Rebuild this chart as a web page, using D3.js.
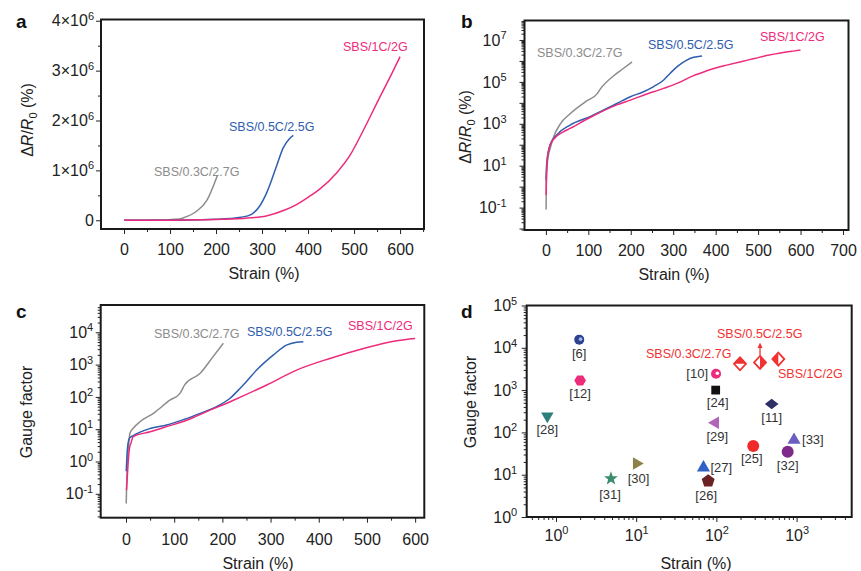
<!DOCTYPE html>
<html>
<head>
<meta charset="utf-8">
<script src="https://cdn.jsdelivr.net/npm/d3@7"></script>
<style>
body { margin: 0; background: #fff; }
text { font-family: "Liberation Sans", Arial, Helvetica, sans-serif; }
</style>
</head>
<body>
<script>
// ---------------- data ----------------
var seriesNames = ["SBS/0.3C/2.7G", "SBS/0.5C/2.5G", "SBS/1C/2G"];

// relative resistance change ΔR/R0 (%) vs strain (%)  (panels a, b)
var strain03 = [0.5, 1, 3, 6, 10, 18, 34, 57, 97, 120, 128, 159, 180, 203];
var resist03 = [0.08, 1, 10, 32, 66, 230, 1e3, 3e3, 1.26e4, 2.6e4, 4.5e4, 1.9e5, 4e5, 9e5];
var strain05 = [0.5, 1, 3, 6, 10, 26, 57, 104, 167, 199, 230, 254, 277, 293, 310, 332, 346, 360, 368];
var resist05 = [2, 6, 20, 50, 100, 300, 870, 2.2e3, 9.3e3, 1.95e4, 3.4e4, 6e4, 1.2e5, 2.6e5, 5.5e5, 1.1e6, 1.45e6, 1.64e6, 1.7e6];
var strain1 = [0.5, 1, 3, 6, 10, 20, 40, 57, 104, 167, 199, 230, 277, 309, 348, 376, 400, 426, 462, 491, 520, 556, 582, 600];
var resist1 = [0.4, 2, 16, 50, 100, 200, 400, 600, 2e3, 8e3, 1.35e4, 2.3e4, 4.9e4, 8.5e4, 2e5, 3.2e5, 4.6e5, 6.3e5, 9.5e5, 1.3e6, 1.8e6, 2.47e6, 2.94e6, 3.28e6];

// gauge factor vs strain (%)  (panel c)
var gfStrain03 = [0.5, 1, 3, 6, 8, 15, 29, 57, 91, 112, 122, 154, 180, 202];
var gf03 = [0.05, 0.12, 1, 4, 7.4, 10.7, 17, 31, 79, 129, 240, 537, 1700, 4570];
var gfStrain05 = [0.5, 3, 7, 15, 50, 84.5, 120, 154, 188, 216, 237, 250, 271, 306, 334, 354, 368];
var gf05 = [0.5, 2.5, 5.2, 6.3, 10.5, 13.5, 20, 31, 50, 91, 186, 300, 676, 2000, 4070, 4900, 5130];
var gfStrain1 = [1, 3, 5, 8, 10, 15, 50, 84.5, 126, 167.5, 223, 292, 354, 423, 493, 562, 600];
var gf1 = [0.13, 0.4, 1.2, 3, 3.6, 5.9, 8.3, 12, 19, 35, 79, 234, 676, 1550, 3160, 5500, 6460];

// comparison with literature (panel d)
var refNames = ["[6]", "[12]", "[28]", "[10]", "[24]", "[11]", "[29]", "[25]", "[33]", "[32]", "[27]", "[26]", "[30]", "[31]"];
var refStrain = [1.95, 2, 0.78, 99, 98, 489, 97, 288, 929, 774, 69, 79, 10.1, 4.85];
var refGF = [15600, 1680, 244, 2430, 1000, 470, 169, 48, 66, 35, 14.7, 7.1, 18.4, 8.1];
var workStrain = [197, 350, 592];
var workGF = [4190, 4500, 5420];

// ---------------- styles / layout ----------------
var W = 861, H = 571;
var lineColors = ["#8c8c8c", "#2f5eae", "#ee2a7b"];
var ink = "#222";

var svg = d3.select("body").append("svg").attr("width", W).attr("height", H);

function frame(x, y) {
  svg.append("rect")
    .attr("x", x.range()[0]).attr("y", y.range()[1])
    .attr("width", x.range()[1] - x.range()[0])
    .attr("height", y.range()[0] - y.range()[1])
    .attr("fill", "none").attr("stroke", "#1a1a1a").attr("stroke-width", 2);
}

function styleAxis(g) {
  g.select(".domain").remove();
  g.attr("font-family", '"Liberation Sans", Arial, sans-serif').attr("font-size", 16);
  g.selectAll(".tick line").attr("stroke", ink);
  g.selectAll(".tick text").attr("fill", ink);
}

// replace tick texts by base + superscript
function powLabels(g, fn) {
  g.selectAll(".tick text").each(function(d) {
    var t = d3.select(this);
    var s = fn(d);
    t.text(null);
    if (!s) return;
    t.append("tspan").text(s[0]);
    if (s[1] !== "") t.append("tspan").attr("dy", "-0.6em").attr("font-size", 11).text(s[1]);
  });
}
function expOf(d) { return Math.round(Math.log10(d)); }

function xAxis(x, y, major, minor, pad) {
  svg.append("g").attr("transform", "translate(0," + y.range()[0] + ")")
    .call(d3.axisBottom(x).tickValues(minor).tickSize(3).tickFormat(""))
    .call(styleAxis);
  var g = svg.append("g").attr("transform", "translate(0," + y.range()[0] + ")")
    .call(d3.axisBottom(x).tickValues(major).tickSize(5).tickPadding(pad))
    .call(styleAxis);
  return g;
}
function yAxis(x, y, major, minor, pad) {
  svg.append("g").attr("transform", "translate(" + x.range()[0] + ",0)")
    .call(d3.axisLeft(y).tickValues(minor).tickSize(3).tickFormat(""))
    .call(styleAxis);
  var g = svg.append("g").attr("transform", "translate(" + x.range()[0] + ",0)")
    .call(d3.axisLeft(y).tickValues(major).tickSize(5).tickPadding(pad))
    .call(styleAxis);
  return g;
}
function logMinor(e0, e1) {
  var out = [];
  for (var e = e0; e <= e1; e++) for (var k = 2; k <= 9; k++) out.push(k * Math.pow(10, e));
  return out;
}
function decades(e0, e1) { return d3.range(e0, e1 + 1).map(function(e) { return Math.pow(10, e); }); }

function panelLetter(s, px, py) {
  svg.append("text").attr("x", px).attr("y", py).attr("font-size", 19)
    .attr("font-weight", "bold").attr("fill", "#111").text(s);
}
function xTitle(cx, by) {
  svg.append("text").attr("x", cx).attr("y", by).attr("text-anchor", "middle")
    .attr("font-size", 16).attr("fill", ink).text("Strain (%)");
}
function yTitleRes(cx, cy) {
  var t = svg.append("text").attr("transform", "translate(" + cx + "," + cy + ") rotate(-90)")
    .attr("text-anchor", "middle").attr("font-size", 16).attr("fill", ink);
  t.append("tspan").text("\u0394");
  t.append("tspan").attr("font-style", "italic").text("R");
  t.append("tspan").text("/");
  t.append("tspan").attr("font-style", "italic").text("R");
  t.append("tspan").attr("font-size", 11).attr("dy", 4).text("0");
  t.append("tspan").attr("dy", -4).text(" (%)");
}
function yTitleGF(cx, cy) {
  svg.append("text").attr("transform", "translate(" + cx + "," + cy + ") rotate(-90)")
    .attr("text-anchor", "middle").attr("font-size", 16).attr("fill", ink).text("Gauge factor");
}
function drawLine(x, y, xs, ys, color) {
  var pts = xs.map(function(v, i) { return [v, ys[i]]; });
  svg.append("path").datum(pts)
    .attr("fill", "none").attr("stroke", color).attr("stroke-width", 1.5)
    .attr("stroke-linejoin", "round")
    .attr("d", d3.line().x(function(d) { return x(d[0]); }).y(function(d) { return y(d[1]); })
      .curve(d3.curveMonotoneX));
}
function seriesLabel(i, px, py, color) {
  svg.append("text").attr("x", px).attr("y", py).attr("font-size", 12.5)
    .attr("fill", color || lineColors[i]).text(seriesNames[i]);
}

// ---------------- panel a ----------------
var xa = d3.scaleLinear().domain([-50, 652]).range([101, 424]);
var ya = d3.scaleLinear().domain([-0.175e6, 4.025e6]).range([229, 19.5]);
xAxis(xa, ya, d3.range(0, 601, 100), d3.range(50, 651, 100), 10);
var gya = yAxis(xa, ya, [0, 1e6, 2e6, 3e6, 4e6], [0.5e6, 1.5e6, 2.5e6, 3.5e6], 2);
powLabels(gya, function(d) { return d === 0 ? ["0", ""] : [(d / 1e6) + "\u00d710", "6"]; });
drawLine(xa, ya, strain03, resist03, lineColors[0]);
drawLine(xa, ya, strain05, resist05, lineColors[1]);
drawLine(xa, ya, strain1, resist1, lineColors[2]);
frame(xa, ya);
seriesLabel(0, 154, 176);
seriesLabel(1, 229, 131);
seriesLabel(2, 343, 51);
panelLetter("a", 16, 28);
xTitle(264, 279);
yTitleRes(33, 120);

// ---------------- panel b ----------------
var xb = d3.scaleLinear().domain([-50.4, 713]).range([524.5, 848.5]);
var yb = d3.scaleLog().domain([Math.pow(10, -2.07), Math.pow(10, 7.93)]).range([230, 20.5]);
xAxis(xb, yb, d3.range(0, 701, 100), d3.range(50, 651, 100), 10);
var gyb = yAxis(xb, yb, decades(-2, 7), logMinor(-3, 7).filter(function(v) { return v > yb.domain()[0] && v < yb.domain()[1]; }), 13);
powLabels(gyb, function(d) { var e = expOf(d); return Math.abs(e % 2) === 1 ? ["10", e < 0 ? "-" + (-e) : "" + e] : null; });
drawLine(xb, yb, strain03, resist03, lineColors[0]);
drawLine(xb, yb, strain05, resist05, lineColors[1]);
drawLine(xb, yb, strain1, resist1, lineColors[2]);
frame(xb, yb);
seriesLabel(0, 537, 57);
seriesLabel(1, 648, 49);
seriesLabel(2, 760, 41);
panelLetter("b", 461, 28);
xTitle(674, 280);
yTitleRes(471, 127);

// ---------------- panel c ----------------
var xc = d3.scaleLinear().domain([-52.5, 619]).range([100.7, 424.3]);
var yc = d3.scaleLog().domain([Math.pow(10, -1.74), Math.pow(10, 4.845)]).range([517.7, 305]);
xAxis(xc, yc, d3.range(0, 601, 100), d3.range(50, 551, 100), 11);
var gyc = yAxis(xc, yc, decades(-1, 4), logMinor(-2, 4).filter(function(v) { return v > yc.domain()[0] && v < yc.domain()[1]; }), 2.5);
powLabels(gyc, function(d) { var e = expOf(d); return ["10", e < 0 ? "-" + (-e) : "" + e]; });
drawLine(xc, yc, gfStrain03, gf03, lineColors[0]);
drawLine(xc, yc, gfStrain05, gf05, lineColors[1]);
drawLine(xc, yc, gfStrain1, gf1, lineColors[2]);
frame(xc, yc);
seriesLabel(0, 154, 338);
seriesLabel(1, 247, 336);
seriesLabel(2, 348, 330);
panelLetter("c", 16, 318);
xTitle(258, 569);
yTitleGF(32, 412);

// ---------------- panel d ----------------
var xd = d3.scaleLog().domain([Math.pow(10, -0.365), Math.pow(10, 3.687)]).range([526.7, 851.7]);
var yd = d3.scaleLog().domain([1, 1e5]).range([517, 305.5]);
var gxd = xAxis(xd, yd, decades(0, 3), logMinor(-1, 3).filter(function(v) { return v > xd.domain()[0] && v < xd.domain()[1]; }), 7.5);
powLabels(gxd, function(d) { return ["10", "" + expOf(d)]; });
var gyd = yAxis(xd, yd, decades(0, 5), logMinor(0, 4), 4.5);
powLabels(gyd, function(d) { return ["10", "" + expOf(d)]; });
frame(xd, yd);

function poly(n, r, rot) {
  var pts = [];
  for (var i = 0; i < n; i++) {
    var a = rot + 2 * Math.PI * i / n;
    pts.push([r * Math.cos(a), r * Math.sin(a)]);
  }
  return "M" + pts.join("L") + "Z";
}
function star(ro, ri) {
  var pts = [];
  for (var i = 0; i < 10; i++) {
    var a = -Math.PI / 2 + Math.PI * i / 5, r = i % 2 ? ri : ro;
    pts.push([r * Math.cos(a), r * Math.sin(a)]);
  }
  return "M" + pts.join("L") + "Z";
}
var circ = function(r) { return d3.symbol(d3.symbolCircle, Math.PI * r * r)(); };
var refMarks = [
  { d: circ(5), c: "#2c4190", dot: "#a9b6e0" },
  { d: poly(6, 5.8, 0), c: "#ee2a7b" },
  { d: poly(3, 7.2, Math.PI / 2), c: "#2b7f7a" },
  { d: circ(5), c: "#ee2a7b", dot: "#ffffff" },
  { d: poly(4, 6.2, Math.PI / 4), c: "#111111" },
  { d: "M0,-5.2L6.8,0L0,5.2L-6.8,0Z", c: "#2d3163" },
  { d: poly(3, 7.3, Math.PI), c: "#b264b8" },
  { d: circ(6), c: "#f02a2a" },
  { d: poly(3, 7.6, -Math.PI / 2), c: "#6a5fc0" },
  { d: circ(6), c: "#7d2a8a" },
  { d: poly(3, 7.6, -Math.PI / 2), c: "#2e62c4" },
  { d: poly(5, 6.8, -Math.PI / 2), c: "#6b2222" },
  { d: poly(3, 7.2, 0), c: "#8c8245" },
  { d: star(7.2, 3), c: "#3a8c6c" }
];
// label offsets from the marker: dx, dy, anchor
var refLabelPos = [
  [0, 18, "middle"], [0, 17, "middle"], [0, 18, "middle"], [-8, 4, "end"],
  [2, 17, "middle"], [0, 18.5, "middle"], [2, 18, "middle"], [-1.5, 17.5, "middle"],
  [8, 4, "start"], [0, 18.5, "middle"], [7, 4.5, "start"], [-2, 19, "middle"],
  [2, 20, "middle"], [-1, 20, "middle"]
];
refNames.forEach(function(name, i) {
  var px = xd(refStrain[i]), py = yd(refGF[i]);
  var g = svg.append("g").attr("transform", "translate(" + px + "," + py + ")");
  g.append("path").attr("d", refMarks[i].d).attr("fill", refMarks[i].c);
  if (refMarks[i].dot) g.append("circle").attr("cx", 1.3).attr("cy", -0.5).attr("r", 1.8).attr("fill", refMarks[i].dot);
  var lp = refLabelPos[i];
  svg.append("text").attr("x", px + lp[0]).attr("y", py + lp[1]).attr("text-anchor", lp[2])
    .attr("font-size", 13).attr("fill", "#333").text(name);
});

// this work: half-filled diamonds
var red = "#f03232";
var halfFill = [
  "M-6,0L0,-6.5L6,0Z",   // top half
  "M0,-6.5L6,0L0,6.5Z",  // right half
  "M0,-6.5L-6,0L0,6.5Z"  // left half
];
workStrain.forEach(function(s, i) {
  var px = xd(s), py = yd(workGF[i]);
  var g = svg.append("g").attr("transform", "translate(" + px + "," + py + ")");
  g.append("path").attr("d", "M0,-6.5L6,0L0,6.5L-6,0Z").attr("fill", "#fff").attr("stroke", red).attr("stroke-width", 1.8);
  g.append("path").attr("d", halfFill[i]).attr("fill", red);
  if (i === 1) {
    g.append("line").attr("x1", 0).attr("x2", 0).attr("y1", -7).attr("y2", -16).attr("stroke", red).attr("stroke-width", 1.3);
    g.append("path").attr("d", "M0,-20L-2.5,-14.5L2.5,-14.5Z").attr("fill", red);
  }
});
seriesLabel(1, 717, 338, red);
seriesLabel(0, 646, 358, red);
seriesLabel(2, 778, 378, red);

panelLetter("d", 461, 318);
xTitle(696, 569);
yTitleGF(476, 402);
</script>
</body>
</html>
